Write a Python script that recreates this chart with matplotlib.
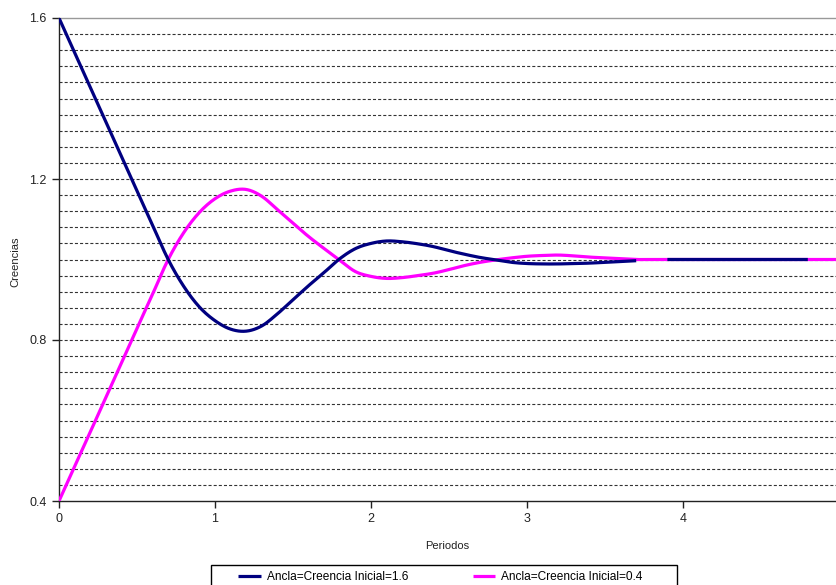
import numpy as np
import matplotlib
matplotlib.use("Agg")
import matplotlib.pyplot as plt
from matplotlib.patches import Rectangle

plt.rcParams['font.family'] = ['Liberation Sans', 'DejaVu Sans']
plt.rcParams['lines.scale_dashes'] = False

# Periods (x values)
periodos = np.round(np.arange(0, 5.0001, 0.1), 1)

# Series: Ancla = Creencia Inicial = 1.6 (values at periods 0.0 .. 4.8; nan = hidden piece)
creencia_16 = [1.600, 1.514, 1.428, 1.342, 1.256, 1.170, 1.085, 1.000, 0.933, 0.882,
               0.848, 0.827, 0.822, 0.835, 0.865, 0.900, 0.935, 0.968, 1.002, 1.027,
               1.040, 1.046, 1.044, 1.039, 1.032, 1.022, 1.013, 1.005, 0.999, 0.993,
               0.990, 0.989, 0.989, 0.990, 0.991, 0.993, 0.995, 0.997, np.nan, 1.000,
               1.000, 1.000, 1.000, 1.000, 1.000, 1.000, 1.000, 1.000, 1.000]

# Series: Ancla = Creencia Inicial = 0.4 (values at periods 0.0 .. 5.0)
creencia_04 = [0.400, 0.486, 0.571, 0.657, 0.743, 0.829, 0.914, 1.000, 1.067, 1.117,
               1.151, 1.170, 1.174, 1.157, 1.124, 1.090, 1.057, 1.027, 0.998, 0.970,
               0.958, 0.953, 0.955, 0.960, 0.966, 0.975, 0.985, 0.993, 0.999, 1.004,
               1.008, 1.010, 1.011, 1.009, 1.006, 1.004, 1.002, 1.000, 1.000, 1.000,
               1.000, 1.000, 1.000, 1.000, 1.000, 1.000, 1.000, 1.000, 1.000, 1.000,
               1.000]

y_ticks = [0.4, 0.8, 1.2, 1.6]
x_ticks = [0, 1, 2, 3, 4, 5]
labels = ['Ancla=Creencia Inicial=1.6', 'Ancla=Creencia Inicial=0.4']
colors = ['#000080', '#FF00FF']


def smooth(x, y, n=12):
    """Catmull-Rom rendering through the data points (like Excel's smoothed line)."""
    x = np.asarray(x, float)
    y = np.asarray(y, float)
    xs_all, ys_all = [], []
    ok = np.isfinite(y)
    idx = np.where(ok)[0]
    runs = np.split(idx, np.where(np.diff(idx) > 1)[0] + 1)
    for r in runs:
        px, py = x[r], y[r]
        if len(px) < 3:
            xs_all += list(px) + [np.nan]
            ys_all += list(py) + [np.nan]
            continue
        P = np.column_stack([px, py])
        P = np.vstack([P[0], P, P[-1]])
        for i in range(1, len(P) - 2):
            p0, p1, p2, p3 = P[i - 1], P[i], P[i + 1], P[i + 2]
            t = np.linspace(0, 1, n, endpoint=False)[:, None]
            pts = 0.5 * ((2 * p1) + (-p0 + p2) * t + (2 * p0 - 5 * p1 + 4 * p2 - p3) * t ** 2
                         + (-p0 + 3 * p1 - 3 * p2 + p3) * t ** 3)
            xs_all += list(pts[:, 0])
            ys_all += list(pts[:, 1])
        xs_all += [P[-2][0], np.nan]
        ys_all += [P[-2][1], np.nan]
    return np.array(xs_all), np.array(ys_all)


fig = plt.figure(figsize=(8.36, 5.85), dpi=100)
ax = fig.add_axes([59/836, 84/585, 780/836, 483/585])

# dashed horizontal gridlines every 0.04
for g in np.arange(0.44, 1.5601, 0.04):
    ax.axhline(g, color='#333333', lw=0.8, dashes=(2.2, 1.5), zorder=1)

n16 = len(creencia_16)
sx1, sy1 = smooth(periodos[:n16], creencia_16)
sx2, sy2 = smooth(periodos, creencia_04)
l1, = ax.plot(sx1, sy1, color=colors[0], lw=2.3, zorder=4,
              solid_capstyle='butt', label=labels[0])
l2, = ax.plot(sx2, sy2, color=colors[1], lw=2.3, zorder=3,
              solid_capstyle='butt', label=labels[1])

ax.set_xlim(0, 5)
ax.set_ylim(0.4, 1.6)
ax.set_xticks(x_ticks)
ax.set_yticks(y_ticks)
ax.set_yticklabels([f'{v:.1f}' for v in y_ticks])
ax.tick_params(axis='both', direction='out', length=5, width=1, labelsize=9,
               colors='#222222', pad=4)
for s in ['left', 'bottom']:
    ax.spines[s].set_color('#222222')
    ax.spines[s].set_linewidth(1)
for s in ['top', 'right']:
    ax.spines[s].set_color('#999999')
    ax.spines[s].set_linewidth(1)

fig.text(447/836, 1 - 546/585, 'Periodos', ha='center', va='center', fontsize=8, color='#222222')
fig.text(15/836, 1 - 262/585, 'Creencias', ha='center', va='center', fontsize=8,
         rotation=90, color='#222222')

# legend box
fig.patches.append(Rectangle((211/836, 1 - 595/585), 466/836, 30/585,
                             transform=fig.transFigure, facecolor='white',
                             edgecolor='black', lw=1, zorder=5))
leg = fig.legend(handles=[l1, l2], labels=labels, loc='center left',
                 bbox_to_anchor=(238/836, 1 - 577/585), ncol=2, fontsize=8.6,
                 frameon=False, borderpad=0, borderaxespad=0,
                 handlelength=1.9, handletextpad=0.5, columnspacing=5.4)
leg.set_zorder(6)

fig.savefig('out.png', dpi=100)
